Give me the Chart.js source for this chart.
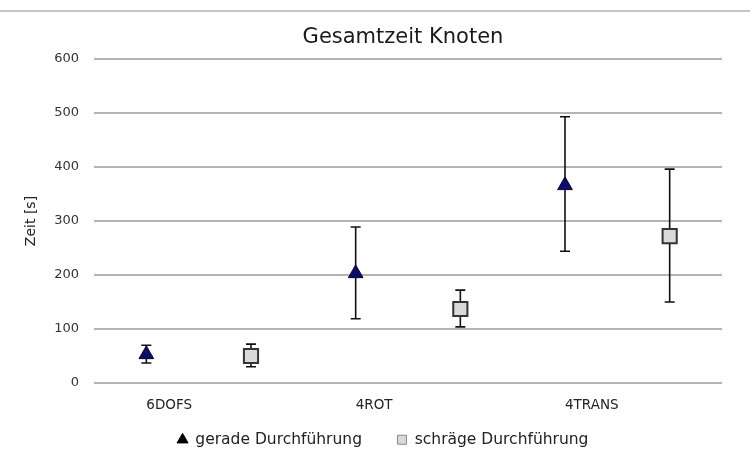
<!DOCTYPE html>
<html>
<head>
<meta charset="utf-8">
<script src="https://cdn.jsdelivr.net/npm/chart.js@4.4.0/dist/chart.umd.min.js"></script>
<style>
  body { margin: 0; background: #fff; }
  #wrap { position: relative; width: 750px; height: 452px; }
  #topline { position: absolute; left: 0; top: 10px; width: 750px; height: 2px; background: #c4c4c4; }
</style>
</head>
<body>
<div id="wrap">
  <div id="topline"></div>
  <canvas id="chart" width="750" height="452"></canvas>
</div>
<script>
// categories and values (seconds)
const categories = ['6DOFS', '4ROT', '4TRANS'];
const yTicks = [0, 100, 200, 300, 400, 500, 600];

const geradeMean = [53, 203, 366];
const geradeLow = [37, 119, 244];
const geradeHigh = [70, 289, 493];

const schraegMean = [50, 137, 272];
const schraegLow = [30, 104, 150];
const schraegHigh = [72, 172, 396];

// triangles sit on the category, squares half a step to the right
const toPoints = (vals, offset) => vals.map((v, i) => ({ x: i + 1 + offset, y: v }));

const errorBars = {
    id: 'errorBars',
    beforeDatasetsDraw(chart) {
        const { ctx, scales: { x, y } } = chart;
        ctx.save();
        ctx.strokeStyle = '#111';
        ctx.lineWidth = 1.6;
        chart.data.datasets.forEach(ds => {
            ds.data.forEach((p, i) => {
                const px = x.getPixelForValue(p.x);
                const top = y.getPixelForValue(ds.high[i]);
                const bot = y.getPixelForValue(ds.low[i]);
                ctx.beginPath();
                ctx.moveTo(px, top); ctx.lineTo(px, bot);
                ctx.moveTo(px - 5, top); ctx.lineTo(px + 5, top);
                ctx.moveTo(px - 5, bot); ctx.lineTo(px + 5, bot);
                ctx.stroke();
            });
        });
        ctx.restore();
    }
};

// title centred over the plot area
const plotTitle = {
    id: 'plotTitle',
    afterDraw(chart) {
        const { ctx, chartArea } = chart;
        ctx.save();
        ctx.font = '21px "DejaVu Sans"';
        ctx.fillStyle = '#1a1a1a';
        ctx.textAlign = 'center';
        ctx.textBaseline = 'middle';
        ctx.fillText('Gesamtzeit Knoten', (chartArea.left + chartArea.right) / 2 - 5, 38);
        ctx.restore();
    }
};

// legend: short box, then nudged up and right after layout
const legendPlace = {
    id: 'legendPlace',
    afterInit(chart) {
        const lg = chart.legend;
        const fit = lg.fit;
        lg.fit = function () {
            fit.call(this);
            this.height = 39;
        };
    },
    afterLayout(chart) {
        const lg = chart.legend;
        lg.top = 397;
        lg.bottom = 452;
        lg.height = lg.bottom - lg.top;
        lg.left = 44;
        lg.width = lg.right - lg.left;
    }
};

new Chart(document.getElementById('chart'), {
    type: 'scatter',
    data: {
        datasets: [
            {
                label: 'gerade Durchführung',
                data: toPoints(geradeMean, 0),
                low: geradeLow,
                high: geradeHigh,
                pointStyle: 'triangle',
                radius: 8.5,
                backgroundColor: '#0c0c6a',
                borderColor: '#050530',
                borderWidth: 1
            },
            {
                label: 'schräge Durchführung',
                data: toPoints(schraegMean, 0.5),
                low: schraegLow,
                high: schraegHigh,
                pointStyle: 'rect',
                radius: 10,
                backgroundColor: '#d9d9d9',
                borderColor: '#333',
                borderWidth: 2
            }
        ]
    },
    options: {
        responsive: false,
        animation: false,
        events: [],
        layout: { padding: { top: 59, right: 28, left: 0, bottom: 0 } },
        scales: {
            x: {
                type: 'linear',
                min: 0.75,
                max: 3.75,
                afterBuildTicks: s => { s.ticks = categories.map((c, i) => ({ value: i + 1 })); },
                afterFit: s => { s.height = 30; },
                ticks: {
                    align: 'start',
                    padding: 14,
                    color: '#222',
                    font: { family: 'DejaVu Sans', size: 13.5 },
                    callback: v => categories[v - 1]
                },
                grid: { display: false, drawTicks: false },
                border: { display: false }
            },
            y: {
                min: 0,
                max: 600,
                afterBuildTicks: s => { s.ticks = yTicks.map(v => ({ value: v })); },
                afterFit: s => { s.width = 94; },
                ticks: {
                    padding: 15,
                    color: '#333',
                    font: { family: 'DejaVu Sans', size: 13 }
                },
                grid: { color: '#b4b4b4', lineWidth: 2, drawTicks: false },
                border: { display: false },
                title: {
                    display: true,
                    text: 'Zeit [s]',
                    color: '#222',
                    font: { family: 'DejaVu Sans', size: 14 },
                    padding: { top: 23 }
                }
            }
        },
        plugins: {
            title: { display: false },
            tooltip: { enabled: false },
            legend: {
                position: 'bottom',
                labels: {
                    usePointStyle: true,
                    boxWidth: 10,
                    boxHeight: 9,
                    padding: 35,
                    color: '#222',
                    font: { family: 'DejaVu Sans', size: 15.5 },
                    generateLabels: chart => {
                        const items = Chart.defaults.plugins.legend.labels.generateLabels(chart);
                        items[0].fillStyle = '#000';
                        items[0].strokeStyle = '#000';
                        items[0].lineWidth = 1;
                        items[1].fillStyle = '#d9d9d9';
                        items[1].strokeStyle = '#8a8a8a';
                        items[1].lineWidth = 1;
                        return items;
                    }
                }
            }
        }
    },
    plugins: [errorBars, plotTitle, legendPlace]
});
</script>
</body>
</html>
